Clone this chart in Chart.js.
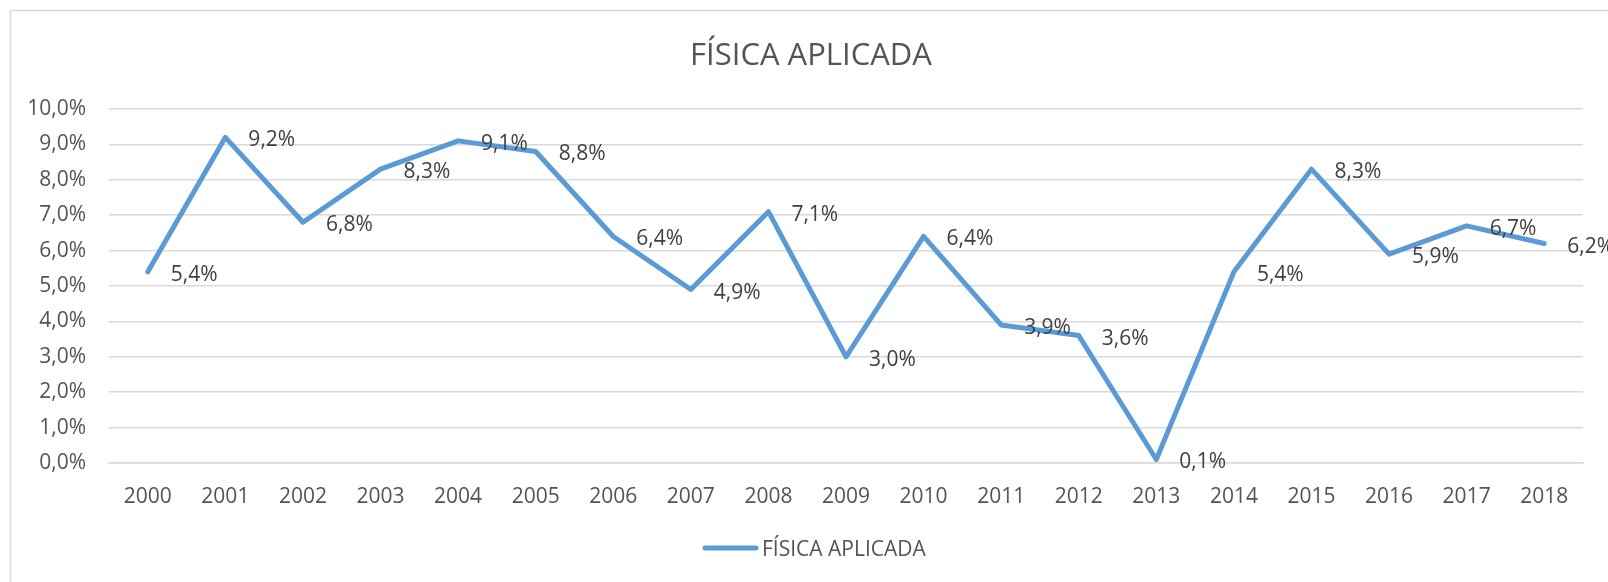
<!DOCTYPE html>
<html>
<head>
<meta charset="utf-8">
<script src="https://cdn.jsdelivr.net/npm/chart.js@4/dist/chart.umd.min.js"></script>
<style>
  html, body { margin: 0; padding: 0; background: #ffffff; }
  #c { display: block; }
</style>
</head>
<body>
<canvas id="c" width="1608" height="582"></canvas>
<script>
const years = ['2000','2001','2002','2003','2004','2005','2006','2007','2008','2009','2010','2011','2012','2013','2014','2015','2016','2017','2018'];
const fisicaAplicada = [5.4, 9.2, 6.8, 8.3, 9.1, 8.8, 6.4, 4.9, 7.1, 3.0, 6.4, 3.9, 3.6, 0.1, 5.4, 8.3, 5.9, 6.7, 6.2];
const seriesName = 'FÍSICA APLICADA';
const chartTitle = 'FÍSICA APLICADA';

const FONT = "'Open Sans', 'Noto Sans', sans-serif";
const LINE_COLOR = '#5B9BD5';
const TEXT_COLOR = '#545454';
const GRID_COLOR = '#d9d9d9';

function fmt(v) { return v.toFixed(1).replace('.', ',') + '%'; }

const framePlugin = {
  id: 'frame',
  beforeDraw(chart) {
    const ctx = chart.ctx;
    ctx.save();
    ctx.fillStyle = '#ffffff';
    ctx.fillRect(0, 0, chart.width, chart.height);
    ctx.strokeStyle = GRID_COLOR;
    ctx.lineWidth = 1.5;
    ctx.beginPath();
    ctx.moveTo(10.5, chart.height + 2);
    ctx.lineTo(10.5, 10.5);
    ctx.lineTo(chart.width + 2, 10.5);
    ctx.stroke();
    ctx.restore();
  }
};

const titlePlugin = {
  id: 'customTitle',
  afterDraw(chart) {
    const ctx = chart.ctx;
    ctx.save();
    ctx.font = '31px ' + FONT;
    ctx.fillStyle = TEXT_COLOR;
    ctx.textAlign = 'center';
    ctx.textBaseline = 'middle';
    ctx.fillText(chartTitle, 811, 56);
    ctx.restore();
  }
};

const legendPlugin = {
  id: 'customLegend',
  afterDraw(chart) {
    const ctx = chart.ctx;
    ctx.save();
    ctx.strokeStyle = LINE_COLOR;
    ctx.lineWidth = 5;
    ctx.lineCap = 'round';
    ctx.beginPath();
    ctx.moveTo(705, 548);
    ctx.lineTo(756, 548);
    ctx.stroke();
    ctx.font = '21px ' + FONT;
    ctx.fillStyle = TEXT_COLOR;
    ctx.textAlign = 'left';
    ctx.textBaseline = 'middle';
    ctx.fillText(chart.data.datasets[0].label, 762, 550);
    ctx.restore();
  }
};

const dataLabelPlugin = {
  id: 'pointLabels',
  afterDatasetsDraw(chart) {
    const ctx = chart.ctx;
    const meta = chart.getDatasetMeta(0);
    const data = chart.data.datasets[0].data;
    ctx.save();
    ctx.font = '21px ' + FONT;
    ctx.fillStyle = '#404040';
    ctx.textAlign = 'left';
    ctx.textBaseline = 'middle';
    meta.data.forEach((pt, i) => {
      ctx.fillText(fmt(data[i]), pt.x + 23, pt.y + 3);
    });
    ctx.restore();
  }
};

new Chart(document.getElementById('c'), {
  type: 'line',
  data: {
    labels: years,
    datasets: [{
      label: seriesName,
      data: fisicaAplicada,
      borderColor: LINE_COLOR,
      backgroundColor: LINE_COLOR,
      borderWidth: 5,
      borderCapStyle: 'round',
      borderJoinStyle: 'round',
      pointRadius: 0,
      pointHoverRadius: 0,
      tension: 0,
      fill: false
    }]
  },
  options: {
    responsive: false,
    animation: false,
    events: [],
    layout: { padding: { top: 109, right: 25, bottom: 69, left: 0 } },
    plugins: {
      legend: { display: false },
      title: { display: false },
      tooltip: { enabled: false }
    },
    scales: {
      x: {
        offset: true,
        grid: { display: false, drawTicks: false },
        border: { display: true, color: GRID_COLOR, width: 1.5 },
        ticks: {
          color: TEXT_COLOR,
          font: { family: FONT, size: 21 },
          padding: 21,
          maxRotation: 0,
          autoSkip: false
        },
        afterFit(scale) {
          scale.height = 50;
          scale.paddingLeft = 0;
          scale.paddingRight = 0;
        }
      },
      y: {
        min: 0,
        max: 10,
        grid: { color: GRID_COLOR, lineWidth: 1.5, drawTicks: false },
        border: { display: false },
        ticks: {
          stepSize: 1,
          color: TEXT_COLOR,
          font: { family: FONT, size: 21 },
          padding: 23,
          callback: (v) => fmt(v)
        },
        afterFit(scale) {
          scale.width = 109;
          scale.paddingTop = 0;
          scale.paddingBottom = 0;
        }
      }
    }
  },
  plugins: [framePlugin, titlePlugin, legendPlugin, dataLabelPlugin]
});
</script>
</body>
</html>
